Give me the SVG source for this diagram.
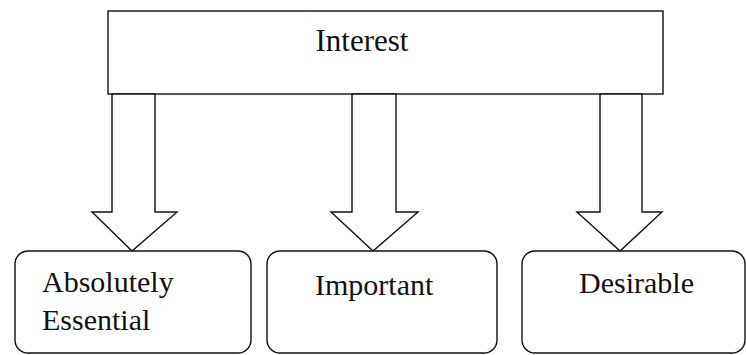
<svg xmlns="http://www.w3.org/2000/svg" width="746" height="355" viewBox="0 0 746 355">
<style>
.box{fill:#fff;stroke:#111;stroke-width:1.4}
.arrow{fill:#fff;stroke:#111;stroke-width:1.4;stroke-linejoin:miter}
.t{font-family:"Liberation Serif","DejaVu Serif","Times New Roman",serif;font-size:30px;fill:#111}
</style>
<rect width="746" height="355" fill="#fff"/>
<g id="interest">
<rect class="box" x="108" y="11" width="555" height="83"/>
<text class="t" x="362" y="51" text-anchor="middle" style="font-size:31px">Interest</text>
</g>
<g id="connectors">
<polygon class="arrow" points="112,94 155,94 155,212 177,212 132,251 92,212 112,212"/>
<polygon class="arrow" points="352,94 396,94 396,212 418,212 373,251 331,212 352,212"/>
<polygon class="arrow" points="600,94 642,94 642,212 662,212 620,251 577,212 600,212"/>
</g>
<g id="absolutely-essential">
<rect class="box" x="15" y="251" width="236" height="102" rx="13"/>
<text class="t" x="42" y="292">Absolutely</text>
<text class="t" x="42" y="330">Essential</text>
</g>
<g id="important">
<rect class="box" x="267" y="251" width="230" height="102" rx="13"/>
<text class="t" x="315" y="295">Important</text>
</g>
<g id="desirable">
<rect class="box" x="522" y="251" width="223" height="102" rx="13"/>
<text class="t" x="579" y="293">Desirable</text>
</g>
</svg>
